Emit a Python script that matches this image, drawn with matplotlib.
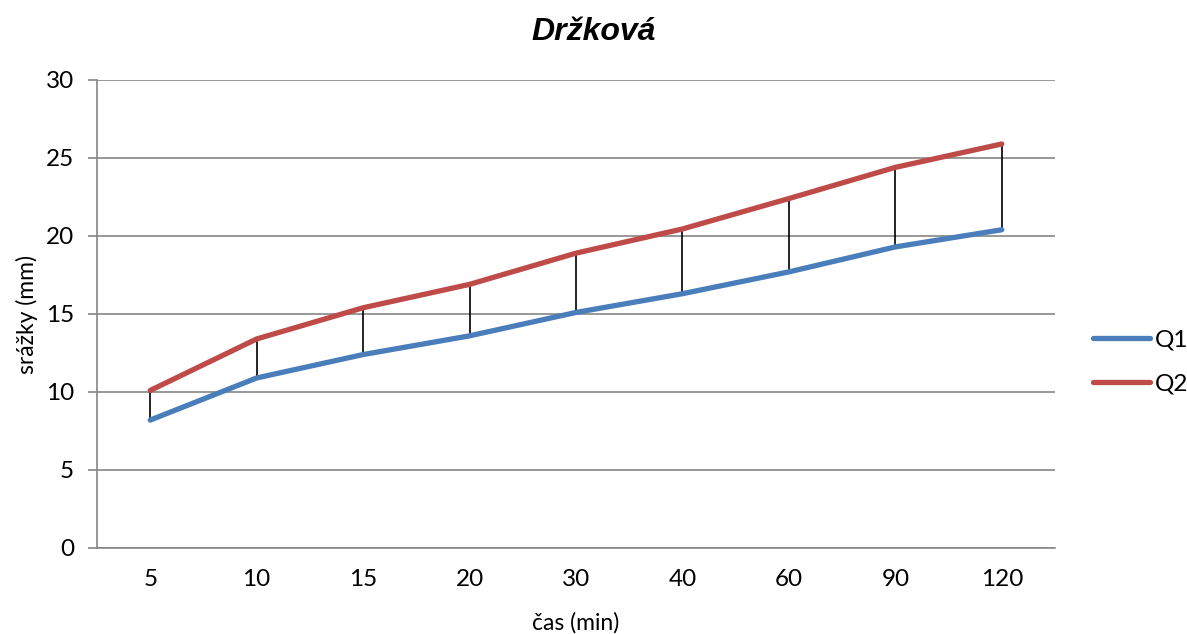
import matplotlib.pyplot as plt
import numpy as np

categories = ["5", "10", "15", "20", "30", "40", "60", "90", "120"]
q1 = [8.2, 10.9, 12.4, 13.6, 15.1, 16.3, 17.7, 19.3, 20.4]
q2 = [10.1, 13.4, 15.4, 16.9, 18.9, 20.45, 22.4, 24.4, 25.9]

plt.rcParams['font.family'] = ['Lato', 'DejaVu Sans']

fig = plt.figure(figsize=(11.87, 6.34), dpi=100)
ax = fig.add_axes([97 / 1187, 1 - 548 / 634, (1055 - 97) / 1187, (548 - 80) / 634])

x = np.arange(len(categories))
grid_col = '#868686'

# hi-lo lines
ax.vlines(x, q1, q2, color='black', linewidth=1.2, zorder=2)
ax.plot(x, q1, color='#4A7EBB', linewidth=3.8, solid_capstyle='round', label='Q1', zorder=3)
ax.plot(x, q2, color='#BE4B48', linewidth=3.8, solid_capstyle='round', label='Q2', zorder=3)

ax.set_xlim(-0.5, len(categories) - 0.5)
ax.set_ylim(0, 30)
ax.set_yticks(range(0, 31, 5))
ax.set_xticks(x)
ax.set_xticklabels(categories)
ax.yaxis.grid(True, color=grid_col, linewidth=1.2)
ax.set_axisbelow(True)

for s in ['top', 'right']:
    ax.spines[s].set_visible(False)
ax.spines['left'].set_color(grid_col)
ax.spines['bottom'].set_color(grid_col)
ax.spines['left'].set_linewidth(1.2)
ax.spines['bottom'].set_linewidth(1.2)
ax.tick_params(axis='y', length=6.5, width=1.2, color=grid_col, labelsize=17.5, pad=10)
ax.tick_params(axis='x', length=0, labelsize=17.5, pad=15)

ax.set_xlabel('čas (min)', fontsize=16.5, labelpad=16)
ax.set_ylabel('srážky (mm)', fontsize=16.5, labelpad=6)
ax.set_title('Držková', fontsize=23, fontweight='bold', fontstyle='italic',
             family=['Liberation Sans', 'DejaVu Sans'], pad=29, x=0.518)

ax.legend(loc='center left', bbox_to_anchor=(1.04, 0.397), frameon=False,
          borderaxespad=0, borderpad=0, fontsize=17.5, handlelength=2.35,
          labelspacing=0.95, handletextpad=0.2)

fig.savefig('out.png', dpi=100)
